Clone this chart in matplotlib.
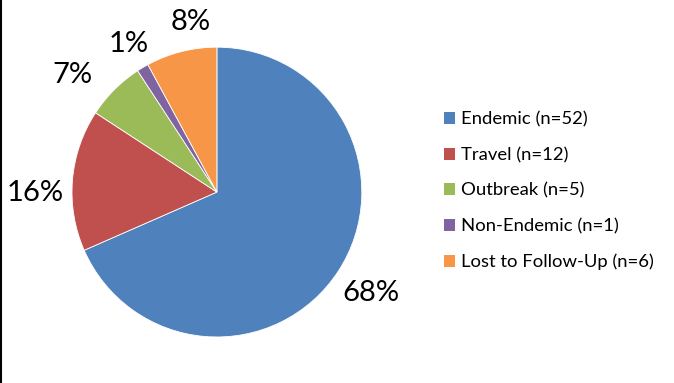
import matplotlib
matplotlib.use('Agg')
import numpy as np
import matplotlib.pyplot as plt
from matplotlib.patches import Patch
from matplotlib.lines import Line2D

# Case categories and counts
categories = ['Endemic', 'Travel', 'Outbreak', 'Non-Endemic', 'Lost to Follow-Up']
counts = [52, 12, 5, 1, 6]
colors = ['#4F81BD', '#C0504D', '#9BBB59', '#8064A2', '#F79646']

plt.rcParams['font.family'] = ['Lato', 'DejaVu Sans']

fig = plt.figure(figsize=(6.74, 3.83), dpi=100)
ax = fig.add_axes([0.1068, 0.120, 0.430, 0.757])

wedges, texts, autotexts = ax.pie(
    counts, colors=colors, startangle=90, counterclock=False,
    autopct='%1.0f%%', pctdistance=1.24,
    wedgeprops=dict(edgecolor='white', linewidth=0.6),
    textprops=dict(fontsize=21, color='black'))
ax.set_xlim(-1, 1)
ax.set_ylim(-1, 1)
ax.set_aspect('equal')

# place labels roughly where Excel's best fit put them
label_dist = [1.27, 1.255, 1.28, 1.19, 1.19]
angle_shift = [0, 5, 6, 0, -5.5]
for w, t, d, s in zip(wedges, autotexts, label_dist, angle_shift):
    ang = np.deg2rad((w.theta1 + w.theta2) / 2 + s)
    t.set_position((d * np.cos(ang), d * np.sin(ang)))

labels = [f'{c} (n={n})' for c, n in zip(categories, counts)]
handles = [Patch(facecolor=c, edgecolor='none') for c in colors]
fig.legend(handles, labels, loc='center left', bbox_to_anchor=(444 / 674, 1 - 191 / 383),
           frameon=False, fontsize=13.3, labelspacing=1.05, handlelength=0.6,
           handleheight=0.6, handletextpad=0.3, borderpad=0, borderaxespad=0)

# left border line of the original chart area
fig.add_artist(Line2D([0.0015, 0.0015], [0, 1], transform=fig.transFigure, color='black', linewidth=1.5))

fig.savefig('out.png', dpi=100)
